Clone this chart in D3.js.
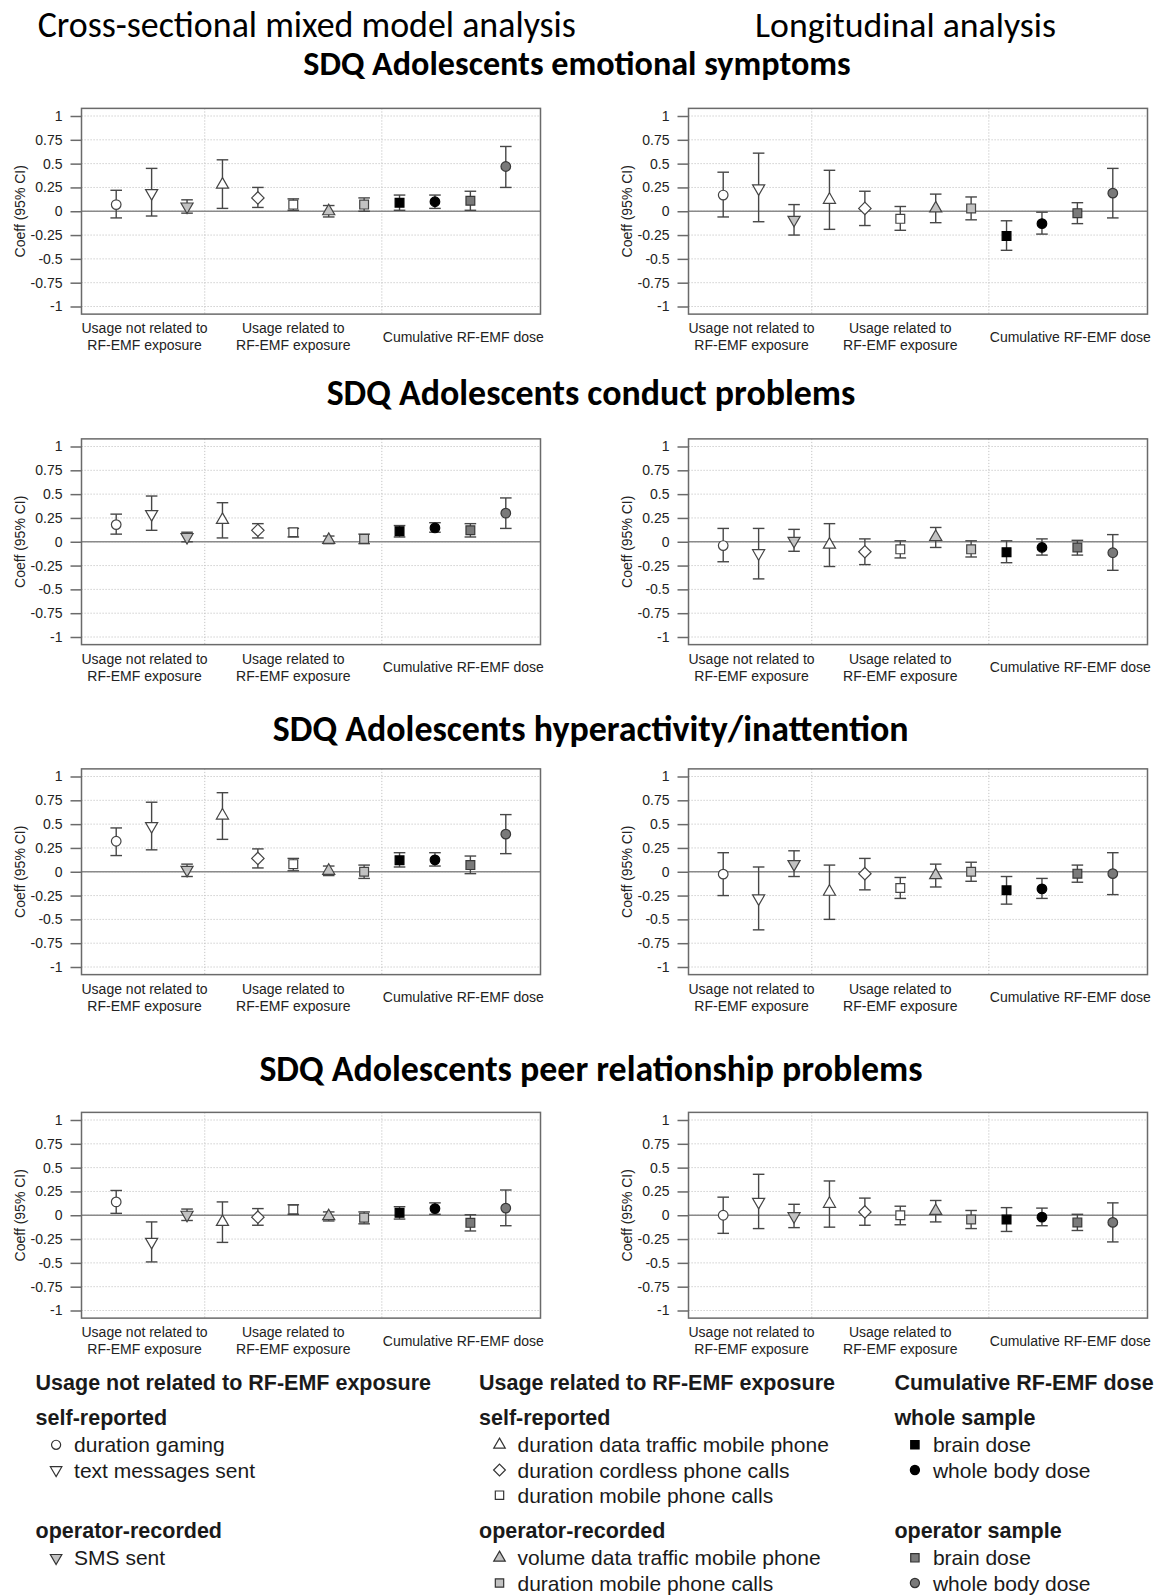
<!DOCTYPE html>
<html>
<head>
<meta charset="utf-8">
<script src="https://cdn.jsdelivr.net/npm/d3@7"></script>
<style>
  body { margin: 0; background: #fff; }
  svg { display: block; }
</style>
</head>
<body>
<svg id="fig" width="1162" height="1596"></svg>
<script>
// ---- Exposure variables (x positions 1..12) ----
const itemLabels = [
  "duration gaming", "text messages sent", "SMS sent",
  "duration data traffic mobile phone", "duration cordless phone calls", "duration mobile phone calls",
  "volume data traffic mobile phone", "duration mobile phone calls",
  "brain dose", "whole body dose", "brain dose", "whole body dose"
];
const itemShapes = ["circle", "triDown", "triDown", "triUp", "diamond", "square",
                    "triUp", "square", "square", "circle", "square", "circle"];
const itemFills  = ["white", "white", "light", "white", "white", "white",
                    "light", "light", "black", "black", "dark", "dark"];

// ---- Coefficients: [estimate, lower 95% CI, upper 95% CI] ----
const emoCross  = [[0.07,-0.07,0.22],[0.19,-0.05,0.45],[0.05,-0.02,0.12],[0.28,0.03,0.54],[0.14,0.04,0.25],[0.07,0.01,0.13],[0.0,-0.06,0.06],[0.07,0.0,0.14],[0.09,0.01,0.17],[0.10,0.03,0.17],[0.11,0.01,0.21],[0.47,0.25,0.68]];
const emoLong   = [[0.17,-0.06,0.41],[0.24,-0.11,0.61],[-0.09,-0.25,0.07],[0.12,-0.19,0.43],[0.03,-0.15,0.21],[-0.08,-0.20,0.05],[0.03,-0.12,0.18],[0.03,-0.09,0.15],[-0.26,-0.41,-0.10],[-0.13,-0.24,-0.01],[-0.02,-0.13,0.09],[0.19,-0.07,0.45]];
const conCross  = [[0.18,0.08,0.29],[0.29,0.12,0.48],[0.05,0.0,0.10],[0.23,0.04,0.41],[0.12,0.04,0.19],[0.10,0.05,0.14],[0.02,-0.02,0.06],[0.03,-0.02,0.08],[0.11,0.05,0.17],[0.145,0.10,0.20],[0.12,0.05,0.19],[0.30,0.14,0.46]];
const conLong   = [[-0.04,-0.21,0.14],[-0.12,-0.39,0.14],[0.01,-0.10,0.13],[-0.03,-0.26,0.19],[-0.105,-0.24,0.03],[-0.08,-0.17,0.01],[0.05,-0.06,0.15],[-0.08,-0.16,0.01],[-0.11,-0.22,0.01],[-0.06,-0.14,0.03],[-0.06,-0.14,0.015],[-0.115,-0.30,0.075]];
const hypCross  = [[0.32,0.17,0.46],[0.48,0.23,0.73],[0.02,-0.05,0.08],[0.59,0.34,0.83],[0.14,0.04,0.24],[0.08,0.01,0.14],[0.01,-0.04,0.06],[0.0,-0.07,0.07],[0.12,0.05,0.20],[0.125,0.06,0.20],[0.07,-0.02,0.165],[0.395,0.19,0.60]];
const hypLong   = [[-0.025,-0.25,0.20],[-0.28,-0.61,0.05],[0.08,-0.05,0.22],[-0.21,-0.50,0.07],[-0.02,-0.19,0.14],[-0.17,-0.28,-0.06],[-0.035,-0.16,0.08],[0.0,-0.10,0.10],[-0.195,-0.34,-0.05],[-0.18,-0.28,-0.07],[-0.02,-0.11,0.07],[-0.02,-0.24,0.20]];
const peerCross = [[0.14,0.02,0.26],[-0.28,-0.49,-0.07],[0.005,-0.055,0.065],[-0.07,-0.285,0.14],[-0.02,-0.105,0.07],[0.06,0.01,0.11],[-0.01,-0.06,0.035],[-0.025,-0.09,0.035],[0.025,-0.04,0.09],[0.07,0.01,0.13],[-0.08,-0.165,0.005],[0.075,-0.11,0.265]];
const peerLong  = [[0.0,-0.19,0.19],[0.14,-0.14,0.43],[-0.01,-0.13,0.115],[0.12,-0.125,0.36],[0.035,-0.105,0.18],[0.0,-0.10,0.095],[0.045,-0.07,0.155],[-0.045,-0.14,0.05],[-0.045,-0.17,0.08],[-0.02,-0.11,0.075],[-0.075,-0.16,0.01],[-0.075,-0.28,0.13]];

const outcomeTitles = [
  "SDQ Adolescents emotional symptoms",
  "SDQ Adolescents conduct problems",
  "SDQ Adolescents hyperactivity/inattention",
  "SDQ Adolescents peer relationship problems"
];
const analysisTitles = ["Cross-sectional mixed model analysis", "Longitudinal analysis"];
const panelRows = [[emoCross, emoLong], [conCross, conLong], [hypCross, hypLong], [peerCross, peerLong]];

const yTicks = [-1, -0.75, -0.5, -0.25, 0, 0.25, 0.5, 0.75, 1];
const yTickLabels = ["-1", "-0.75", "-0.5", "-0.25", "0", "0.25", "0.5", "0.75", "1"];
const groupDividers = [3.5, 8.5];
const groupLabels = [
  { x: 1.8, lines: ["Usage not related to", "RF-EMF exposure"] },
  { x: 6.0, lines: ["Usage related to", "RF-EMF exposure"] },
  { x: 10.8, lines: ["Cumulative RF-EMF dose"] }
];

// ---- Styling ----
const fillColor = { white: "#ffffff", light: "#c2c2c2", dark: "#7a7a7a", black: "#000000" };
const strokeColor = { white: "#444444", light: "#444444", dark: "#383838", black: "#000000" };
const axisFont = "'Liberation Sans', Arial, sans-serif";
const titleFont = "Carlito, Calibri, Lato, 'Open Sans', sans-serif";

const svg = d3.select("#fig");

// Custom marker shapes sized in pixels
function shapeType(kind, k) {
  return {
    draw(ctx) {
      if (kind === "circle") {
        const r = 4.8 * k;
        ctx.moveTo(r, 0); ctx.arc(0, 0, r, 0, 2 * Math.PI);
      } else if (kind === "square") {
        const h = 4.4 * k;
        ctx.moveTo(-h, -h); ctx.lineTo(h, -h); ctx.lineTo(h, h); ctx.lineTo(-h, h); ctx.closePath();
      } else if (kind === "diamond") {
        const d = 6.2 * k;
        ctx.moveTo(0, -d); ctx.lineTo(d, 0); ctx.lineTo(0, d); ctx.lineTo(-d, 0); ctx.closePath();
      } else {
        // equilateral triangle centred on its centroid
        const r = 7.0 * k, xc = r * Math.sqrt(3) / 2, yc = r / 2;
        const s = kind === "triUp" ? 1 : -1;
        ctx.moveTo(0, -s * r); ctx.lineTo(xc, s * yc); ctx.lineTo(-xc, s * yc); ctx.closePath();
      }
    }
  };
}
const markerPath = (kind, k = 1) => d3.symbol().type(shapeType(kind, k))();

// ---- Panel geometry ----
const boxW = 459;
const boxLeft = [81.5, 688.5];
const rowTop = [116, 446.5, 776.5, 1120];   // pixel row of y = 1
const unitH = 95.25;

function drawPanel(data, row, col) {
  const x = d3.scaleLinear().domain([0.02, 12.98]).range([boxLeft[col], boxLeft[col] + boxW]);
  const y = d3.scaleLinear().domain([-1, 1]).range([rowTop[row] + 2 * unitH, rowTop[row]]);
  const g = svg.append("g");
  const x0 = x(0.02), x1 = x(12.98), yTop = y(1.08), yBot = y(-1.08);

  // dotted grid
  g.selectAll("line.hgrid").data(yTicks).join("line")
    .attr("x1", x0).attr("x2", x1).attr("y1", d => y(d)).attr("y2", d => y(d))
    .attr("stroke", "#c4c4c4").attr("stroke-width", 1).attr("stroke-dasharray", "1.2,1.8");
  g.selectAll("line.vgrid").data(groupDividers).join("line")
    .attr("x1", d => x(d)).attr("x2", d => x(d)).attr("y1", yTop).attr("y2", yBot)
    .attr("stroke", "#c4c4c4").attr("stroke-width", 1).attr("stroke-dasharray", "1.2,1.8");

  // reference line at zero
  g.append("line").attr("x1", x0).attr("x2", x1).attr("y1", y(0)).attr("y2", y(0))
    .attr("stroke", "#8a8a8a").attr("stroke-width", 1.7);

  // frame
  g.append("rect").attr("x", x0).attr("y", yTop).attr("width", x1 - x0).attr("height", yBot - yTop)
    .attr("fill", "none").attr("stroke", "#6a6a6a").attr("stroke-width", 1.5);

  // y axis
  const axis = d3.axisLeft(y).tickValues(yTicks)
    .tickFormat((d, i) => yTickLabels[i]).tickSize(11).tickPadding(8);
  const ag = g.append("g").attr("transform", `translate(${x0},0)`).call(axis);
  ag.select(".domain").remove();
  ag.selectAll(".tick line").attr("stroke", "#6a6a6a").attr("stroke-width", 1.5);
  ag.selectAll(".tick text").attr("font-family", axisFont).attr("font-size", 14).attr("fill", "#222");

  g.append("text")
    .attr("transform", `translate(${x0 - 62},${y(0)}) rotate(-90)`)
    .attr("text-anchor", "middle").attr("dominant-baseline", "central")
    .attr("font-family", axisFont).attr("font-size", 14).attr("fill", "#222")
    .text("Coeff (95% CI)");

  // group labels under the frame
  groupLabels.forEach(gl => {
    const offs = gl.lines.length === 2 ? [21.5, 38.5] : [30];
    gl.lines.forEach((t, i) => {
      g.append("text").attr("x", x(gl.x)).attr("y", y(-1) + offs[i])
        .attr("text-anchor", "middle").attr("dominant-baseline", "central")
        .attr("font-family", axisFont).attr("font-size", 14).attr("fill", "#222").text(t);
    });
  });

  // confidence intervals
  const cap = 5.8;
  const pts = data.map((d, i) => ({ i: i + 1, est: d[0], lo: d[1], hi: d[2], shape: itemShapes[i], fill: itemFills[i] }));
  const eb = g.selectAll("g.eb").data(pts).join("g").attr("stroke", "#474747").attr("stroke-width", 1.4);
  eb.append("line").attr("x1", d => x(d.i)).attr("x2", d => x(d.i)).attr("y1", d => y(d.lo)).attr("y2", d => y(d.hi));
  eb.append("line").attr("x1", d => x(d.i) - cap).attr("x2", d => x(d.i) + cap).attr("y1", d => y(d.lo)).attr("y2", d => y(d.lo));
  eb.append("line").attr("x1", d => x(d.i) - cap).attr("x2", d => x(d.i) + cap).attr("y1", d => y(d.hi)).attr("y2", d => y(d.hi));

  // point estimates
  g.selectAll("path.pt").data(pts).join("path")
    .attr("transform", d => `translate(${x(d.i)},${y(d.est)})`)
    .attr("d", d => markerPath(d.shape))
    .attr("fill", d => fillColor[d.fill]).attr("stroke", d => strokeColor[d.fill]).attr("stroke-width", 1.2);
}

panelRows.forEach((pair, r) => pair.forEach((data, c) => drawPanel(data, r, c)));

// ---- Headings ----
function fitText(sel, target) {
  const w = sel.node().getComputedTextLength();
  const fs = parseFloat(sel.attr("font-size"));
  sel.attr("font-size", fs * target / w);
}
const headSpecs = [{ cx: 306.8, w: 538.4 }, { cx: 905.5, w: 301 }];
analysisTitles.forEach((t, i) => {
  const s = svg.append("text").attr("x", headSpecs[i].cx).attr("y", 25)
    .attr("text-anchor", "middle").attr("dominant-baseline", "central")
    .attr("font-family", titleFont).attr("font-size", 30).attr("fill", "#000").text(t);
  fitText(s, headSpecs[i].w);
});

const titleSpecs = [{ cx: 577, cy: 63, w: 547.6 }, { cx: 591, cy: 393, w: 529 },
                    { cx: 590.7, cy: 728.5, w: 636 }, { cx: 591, cy: 1069, w: 663.4 }];
outcomeTitles.forEach((t, i) => {
  const s = svg.append("text")
    .attr("x", titleSpecs[i].cx).attr("y", titleSpecs[i].cy)
    .attr("text-anchor", "middle").attr("dominant-baseline", "central")
    .attr("font-family", titleFont).attr("font-weight", "bold").attr("font-size", 28).attr("fill", "#000").text(t);
  fitText(s, titleSpecs[i].w);
});

// ---- Legend ----
const legendCols = [
  { x: 35.6, head: "Usage not related to RF-EMF exposure",
    groups: [{ name: "self-reported", items: [0, 1] }, { name: "operator-recorded", items: [2] }] },
  { x: 479, head: "Usage related to RF-EMF exposure",
    groups: [{ name: "self-reported", items: [3, 4, 5] }, { name: "operator-recorded", items: [6, 7] }] },
  { x: 894.4, head: "Cumulative RF-EMF dose",
    groups: [{ name: "whole sample", items: [8, 9] }, { name: "operator sample", items: [10, 11] }] }
];
const legHeadY = 1383, legSubY = [1418, 1531], legStep = 25.2, legFirst = 26.8;
const legFS = 21;
legendCols.forEach(col => {
  svg.append("text").attr("x", col.x).attr("y", legHeadY).attr("dominant-baseline", "central")
    .attr("font-family", axisFont).attr("font-weight", "bold").attr("font-size", 21.5).attr("fill", "#1a1a1a")
    .text(col.head);
  col.groups.forEach((grp, gi) => {
    svg.append("text").attr("x", col.x).attr("y", legSubY[gi]).attr("dominant-baseline", "central")
      .attr("font-family", axisFont).attr("font-weight", "bold").attr("font-size", 21.5).attr("fill", "#1a1a1a")
      .text(grp.name);
    grp.items.forEach((it, k) => {
      const yy = legSubY[gi] + legFirst + k * legStep;
      svg.append("path").attr("transform", `translate(${col.x + 20.5},${yy})`)
        .attr("d", markerPath(itemShapes[it], 0.95))
        .attr("fill", fillColor[itemFills[it]]).attr("stroke", itemFills[it] === "black" ? "#000" : "#333")
        .attr("stroke-width", 1.2);
      svg.append("text").attr("x", col.x + 38.5).attr("y", yy).attr("dominant-baseline", "central")
        .attr("font-family", axisFont).attr("font-size", legFS).attr("fill", "#1a1a1a")
        .text(itemLabels[it]);
    });
  });
});
</script>
</body>
</html>
